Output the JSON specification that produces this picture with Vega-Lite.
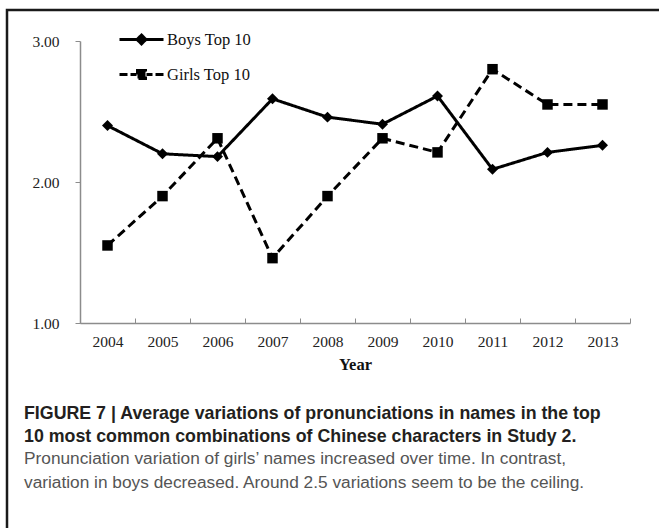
{
  "$schema": "https://vega.github.io/schema/vega-lite/v6.json",
  "width": 654,
  "height": 520,
  "autosize": {"type": "none"},
  "padding": {"left": 7, "top": 10, "right": -2, "bottom": -2},
  "background": "white",
  "config": {
    "view": {"stroke": "#1a1a1a", "strokeWidth": 2.5},
    "font": "Liberation Serif"
  },
  "title": {
    "text": ["FIGURE 7 | Average variations of pronunciations in names in the top", "10 most common combinations of Chinese characters in Study 2."],
    "subtitle": ["Pronunciation variation of girls’ names increased over time. In contrast,", "variation in boys decreased. Around 2.5 variations seem to be the ceiling."],
    "orient": "bottom",
    "anchor": "start",
    "frame": "group",
    "offset": -125,
    "dx": 17,
    "font": "Liberation Sans",
    "fontSize": 17.8,
    "fontWeight": "bold",
    "color": "#231f20",
    "lineHeight": 23,
    "subtitleFont": "Liberation Sans",
    "subtitleFontSize": 17.3,
    "subtitleFontWeight": "normal",
    "subtitleColor": "#555555",
    "subtitleLineHeight": 24,
    "subtitlePadding": 4
  },
  "data": {
    "values": [
      {"year": 2004, "series": "Boys Top 10", "value": 2.40},
      {"year": 2005, "series": "Boys Top 10", "value": 2.20},
      {"year": 2006, "series": "Boys Top 10", "value": 2.18},
      {"year": 2007, "series": "Boys Top 10", "value": 2.59},
      {"year": 2008, "series": "Boys Top 10", "value": 2.46},
      {"year": 2009, "series": "Boys Top 10", "value": 2.41},
      {"year": 2010, "series": "Boys Top 10", "value": 2.61},
      {"year": 2011, "series": "Boys Top 10", "value": 2.09},
      {"year": 2012, "series": "Boys Top 10", "value": 2.21},
      {"year": 2013, "series": "Boys Top 10", "value": 2.26},
      {"year": 2004, "series": "Girls Top 10", "value": 1.55},
      {"year": 2005, "series": "Girls Top 10", "value": 1.90},
      {"year": 2006, "series": "Girls Top 10", "value": 2.31},
      {"year": 2007, "series": "Girls Top 10", "value": 1.46},
      {"year": 2008, "series": "Girls Top 10", "value": 1.90},
      {"year": 2009, "series": "Girls Top 10", "value": 2.31},
      {"year": 2010, "series": "Girls Top 10", "value": 2.21},
      {"year": 2011, "series": "Girls Top 10", "value": 2.80},
      {"year": 2012, "series": "Girls Top 10", "value": 2.55},
      {"year": 2013, "series": "Girls Top 10", "value": 2.55}
    ]
  },
  "encoding": {
    "x": {
      "field": "year",
      "type": "ordinal",
      "bandPosition": 0.5,
      "scale": {"type": "band", "range": [73, 623], "paddingInner": 0, "paddingOuter": 0},
      "axis": {
        "title": "Year",
        "offset": -207,
        "labelAngle": 0,
        "tickBand": "extent",
        "tickSize": -5,
        "tickColor": "#8c8c8c",
        "domainColor": "#8c8c8c",
        "domainWidth": 1.5,
        "labelFont": "Liberation Serif",
        "labelFontSize": 15.5,
        "labelColor": "#222222",
        "labelPadding": 16,
        "titleFont": "Liberation Serif",
        "titleFontSize": 16.5,
        "titleFontWeight": "bold",
        "titleColor": "#111111",
        "titlePadding": 7
      }
    },
    "y": {
      "field": "value",
      "type": "quantitative",
      "scale": {"domain": [1, 3], "range": [313, 31]},
      "axis": {
        "title": null,
        "offset": -73,
        "values": [1, 2, 3],
        "format": ".2f",
        "grid": false,
        "tickSize": 5,
        "tickColor": "#8c8c8c",
        "domainColor": "#8c8c8c",
        "domainWidth": 1.5,
        "labelFont": "Liberation Serif",
        "labelFontSize": 15.5,
        "labelColor": "#222222",
        "labelPadding": 16
      }
    }
  },
  "layer": [
    {
      "mark": {"type": "line", "color": "black", "strokeWidth": 3},
      "encoding": {
        "strokeDash": {
          "field": "series",
          "type": "nominal",
          "scale": {"domain": ["Boys Top 10", "Girls Top 10"], "range": [[1, 0], [9, 5]]},
          "legend": {
            "orient": "none",
            "legendX": 125,
            "legendY": 20,
            "title": null,
            "symbolSize": 256,
            "symbolStrokeWidth": 3,
            "symbolStrokeColor": "black",
            "symbolFillColor": "black",
            "labelFont": "Liberation Serif",
            "labelFontSize": 16.5,
            "labelColor": "#111111",
            "labelOffset": 16,
            "rowPadding": 14,
            "encode": {
              "symbols": {
                "update": {
                  "shape": {"signal": "datum.value === 'Boys Top 10' ? 'M-2.75,0H2.75M-0.55,0L0,-0.55L0.55,0L0,0.55Z' : 'M-2.75,0H-1.75M-1.375,0H-0.625M-0.5,-0.5H0.5V0.5H-0.5ZM0.625,0H1.375M1.75,0H2.75'"},
                  "strokeDash": {"value": []},
                  "stroke": {"value": "black"},
                  "fill": {"value": "black"}
                }
              }
            }
          }
        }
      }
    },
    {
      "transform": [{"filter": "datum.series === 'Boys Top 10'"}],
      "mark": {"type": "point", "shape": "diamond", "filled": true, "color": "black", "opacity": 1, "size": 120},
      "encoding": {}
    },
    {
      "transform": [{"filter": "datum.series === 'Girls Top 10'"}],
      "mark": {"type": "point", "shape": "square", "filled": true, "color": "black", "opacity": 1, "size": 110},
      "encoding": {}
    }
  ]
}
